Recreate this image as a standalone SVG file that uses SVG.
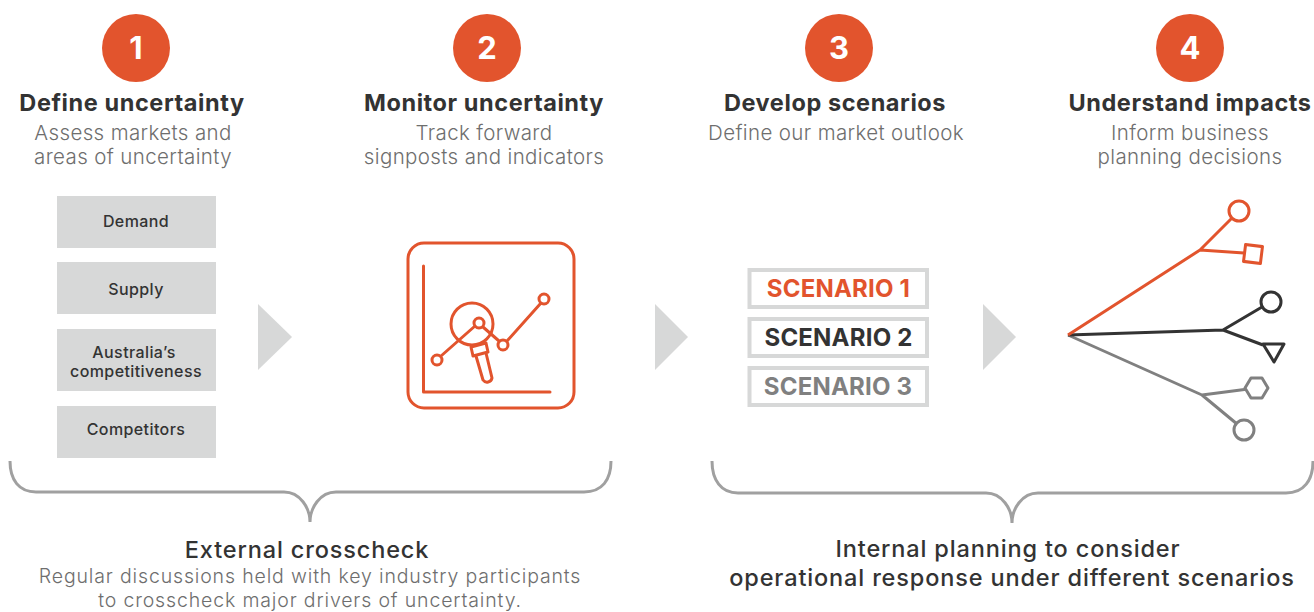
<svg xmlns="http://www.w3.org/2000/svg" width="1314" height="612" viewBox="0 0 1314 612">
<style>
text{font-family:Inter,"Liberation Sans",sans-serif;text-anchor:middle}
.n{fill:#fff;font-size:31px;font-weight:700}
.b{fill:#e2542d}
.t{fill:#333;font-size:23.5px;font-weight:700;letter-spacing:.58px}
.s{fill:#6e6e6e;font-size:20.5px;font-weight:300;letter-spacing:.37px}
.u{fill:#6e6e6e;font-size:19.5px;font-weight:300;letter-spacing:.85px}
.k{fill:#333;font-size:16px;font-weight:500;letter-spacing:.4px}
.a{fill:#d7d8d8}
.f{fill:none;stroke:#d7d8d8;stroke-width:4}
.c{font-size:24px;font-weight:700;letter-spacing:.2px}
.h{fill:#333;font-size:23.5px;font-weight:500;letter-spacing:.85px}
.o{fill:none;stroke:#e2542d;stroke-width:3;stroke-linecap:round;stroke-linejoin:round}
.d{fill:none;stroke:#333;stroke-width:3;stroke-linejoin:round}
.g{fill:none;stroke:#808080;stroke-width:3;stroke-linejoin:round}
.br{fill:none;stroke:#a0a0a0;stroke-width:3}
</style>
<g id="step1"><circle class="b" cx="136" cy="48" r="34"/><text class="n" x="136" y="59">1</text>
<text class="t" x="132" y="111">Define uncertainty</text><text class="s" x="133" y="140">Assess markets and</text><text class="s" x="133" y="164">areas of uncertainty</text></g>
<g id="step2"><circle class="b" cx="487" cy="48" r="34"/><text class="n" x="487" y="59">2</text>
<text class="t" x="484" y="111">Monitor uncertainty</text><text class="s" x="484" y="140">Track forward</text><text class="s" x="484" y="164">signposts and indicators</text></g>
<g id="step3"><circle class="b" cx="839" cy="48" r="34"/><text class="n" x="839" y="59">3</text>
<text class="t" x="835" y="111">Develop scenarios</text><text class="s" x="836" y="140">Define our market outlook</text></g>
<g id="step4"><circle class="b" cx="1190" cy="48" r="34"/><text class="n" x="1190" y="59">4</text>
<text class="t" x="1190" y="111">Understand impacts</text><text class="s" x="1190" y="140">Inform business</text><text class="s" x="1190" y="164">planning decisions</text></g>
<g id="demand"><rect class="a" x="57" y="196" width="159" height="52"/><text class="k" x="136" y="227">Demand</text></g>
<g id="supply"><rect class="a" x="57" y="262" width="159" height="52"/><text class="k" x="136" y="295">Supply</text></g>
<g id="australia"><rect class="a" x="57" y="329" width="159" height="62"/><text class="k" x="134" y="358">Australia’s</text><text class="k" x="136" y="377">competitiveness</text></g>
<g id="competitors"><rect class="a" x="57" y="406" width="159" height="52"/><text class="k" x="136" y="435">Competitors</text></g>
<g id="monitor-icon"><rect class="o" x="408" y="243" width="166" height="165" rx="16"/>
<path class="o" d="M423.500 266V392H550M441 356L475 326M483 327L499 341M507 341L541 303"/>
<circle class="o" cx="472" cy="324" r="21"/>
<circle class="o" cx="437" cy="360" r="5"/><circle class="o" cx="479" cy="323" r="5"/><circle class="o" cx="503" cy="345" r="5"/><circle class="o" cx="544" cy="299" r="5"/>
<path class="o" d="M471 347L486 343L488 352L473 356ZM476 356L483 380A5 5 0 0 0 492 378L486 353"/></g>
<g id="scenario1"><rect class="f" x="749.500" y="270" width="177.500" height="37"/><text class="c" style="fill:#e2542d" x="838.500" y="297">SCENARIO 1</text></g>
<g id="scenario2"><rect class="f" x="749.500" y="319" width="177.500" height="37"/><text class="c" style="fill:#333" x="838.500" y="346">SCENARIO 2</text></g>
<g id="scenario3"><rect class="f" x="749.500" y="368" width="177.500" height="37"/><text class="c" style="fill:#808080" x="838" y="395">SCENARIO 3</text></g>
<g id="tree"><path class="g" d="M1068 335L1202 395L1256 388M1202 395L1237 424"/><path class="d" d="M1068 335L1223 330L1262 307M1223 330L1263 345"/><path class="o" style="stroke-linecap:butt" d="M1068 335L1200 250L1232 218M1200 250L1244 253"/>
<circle class="o" style="fill:#fff" cx="1239" cy="211" r="10"/><rect class="o" style="fill:#fff" x="1244.500" y="245.500" width="17" height="17" transform="rotate(7 1253 254)"/>
<circle class="d" style="fill:#fff" cx="1271" cy="302" r="10"/><path class="d" style="fill:#fff" d="M1263 344H1284L1274 362Z"/>
<path class="g" style="fill:#fff" d="M1245 388L1251 378H1262L1268 388L1262 398H1251Z"/><circle class="g" style="fill:#fff" cx="1244" cy="430" r="10"/></g>
<g id="connectors">
<path class="a" d="M258 304L292 337L258 370Z"/><path class="a" d="M655 304L688 337L655 370Z"/><path class="a" d="M983 304L1016 337L983 370Z"/>
<path class="br" d="M10 461C10 480 19 492 36 492H284C300 492 310 508 310 522C310 508 320 492 336 492H584C602 492 611 480 611 461"/>
<path class="br" d="M712 461C712 480 721 493 738 493H986C1002 493 1012 509 1012 523C1012 509 1022 493 1038 493H1286C1304 493 1313 480 1313 461"/></g>
<g id="external"><text class="h" x="307" y="558">External crosscheck</text><text class="u" x="310" y="583">Regular discussions held with key industry participants</text><text class="u" x="310" y="607">to crosscheck major drivers of uncertainty.</text></g>
<g id="internal"><text class="h" x="1008" y="557">Internal planning to consider</text><text class="h" x="1012" y="586">operational response under different scenarios</text></g>
</svg>
